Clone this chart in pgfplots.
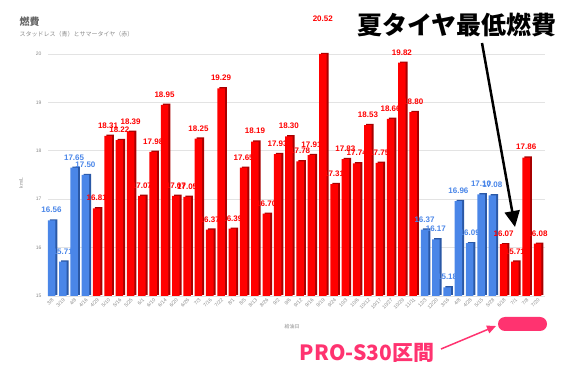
\documentclass[border=0pt]{standalone}
\usepackage{pgfplots}
\pgfplotsset{compat=1.18}
\usepackage{pgfplotstable}
\usepackage{fontspec}
\setmainfont{Liberation Sans}
\newfontfamily\jp{Noto Sans CJK JP}
\usetikzlibrary{arrows.meta}

\definecolor{myred}{HTML}{FF0000}
\definecolor{myredd}{HTML}{A80000}
\definecolor{myblue}{HTML}{4A86E8}
\definecolor{myblued}{HTML}{2A58A6}
\definecolor{pinkc}{HTML}{FF3370}
\definecolor{gridc}{HTML}{E3E3E3}
\definecolor{tickc}{HTML}{8A8A8A}
\definecolor{titlec}{HTML}{666666}

\pgfplotstableread{
x y
0 16.56
1 15.71
2 17.65
3 17.50
33 16.37
34 16.17
35 15.18
36 16.96
37 16.09
38 17.10
39 17.08
}\bluedata

\pgfplotstableread{
x y
4 16.81
5 18.31
6 18.22
7 18.39
8 17.07
9 17.98
10 18.95
11 17.07
12 17.05
13 18.25
14 16.37
15 19.29
16 16.39
17 17.65
18 18.19
19 16.70
20 17.93
21 18.30
22 17.78
23 17.91
24 20.52
25 17.31
26 17.83
27 17.74
28 18.53
29 17.75
30 18.66
31 19.82
32 18.80
40 16.07
41 15.71
42 17.86
43 16.08
}\reddata

\begin{document}
\begin{tikzpicture}
\path[use as bounding box] (0pt,0pt) rectangle (570pt,369pt);
\begin{axis}[
  at={(48pt,73pt)}, anchor=south west,
  scale only axis, width=497pt, height=242pt,
  xmin=-0.31, xmax=43.66, ymin=15, ymax=20,
  ytick={15,16,17,18,19,20},
  xtick={0,...,43},
  xticklabels={3/8,3/19,4/8,4/16,4/29,5/10,5/16,5/25,6/1,6/10,6/14,6/20,6/26,7/3,7/16,7/22,8/1,8/5,8/13,8/26,9/2,9/6,9/12,9/16,9/19,9/24,10/3,10/6,10/12,10/17,10/27,10/29,11/11,12/3,12/20,3/16,4/8,4/28,5/15,5/28,6/18,7/1,7/8,7/20},
  ymajorgrids, grid style={gridc, line width=0.7pt},
  axis line style={draw=none},
  major tick length=0pt,
  tick label style={font=\fontsize{5}{6}\selectfont, text=tickc},
  x tick label style={rotate=45, anchor=north east, inner sep=1pt},
  y tick label style={xshift=-3pt},
  /pgf/number format/assume math mode=true,
  ybar, bar width=7.5pt,
  clip=false,
]
\addplot[fill=myblued, draw=none, bar shift=2pt, restrict y to domain*=15:20, transform canvas={yshift=1.2pt}] table {\bluedata};
\addplot[fill=myredd, draw=none, bar shift=2pt, restrict y to domain*=15:20, transform canvas={yshift=1.2pt}] table {\reddata};
\addplot[fill=myblue, draw=none, bar shift=0pt, restrict y to domain*=15:20] table {\bluedata};
\addplot[fill=myred, draw=none, bar shift=0pt, restrict y to domain*=15:20] table {\reddata};
% value labels
\addplot[draw=none, fill=none, bar shift=0pt,
  nodes near coords={\pgfmathprintnumber[fixed,fixed zerofill,precision=2]{\pgfplotspointmeta}},
  nodes near coords style={font=\bfseries\fontsize{8}{9}\selectfont, text=myblue, yshift=4pt}] table {\bluedata};
\addplot[draw=none, fill=none, bar shift=0pt,
  nodes near coords={\pgfmathprintnumber[fixed,fixed zerofill,precision=2]{\pgfplotspointmeta}},
  nodes near coords style={font=\bfseries\fontsize{8}{9}\selectfont, text=myred, yshift=4pt}] table {\reddata};
\end{axis}
% titles and axis labels
\node[anchor=west, font=\jp\bfseries\fontsize{10}{12}\selectfont, text=titlec] at (16pt,347pt) {燃費};
\node[anchor=west, font=\jp\fontsize{6}{7}\selectfont, text=tickc] at (16pt,335pt) {スタッドレス（青）とサマータイヤ（赤）};
\node[rotate=90, font=\fontsize{5}{6}\selectfont, text=tickc] at (21pt,186pt) {km/L};
\node[font=\jp\fontsize{5}{6}\selectfont, text=tickc] at (292pt,42pt) {給油日};
% annotation 1
\draw[line width=2.5pt, -{Triangle[width=15pt,length=16pt]}] (482pt,326pt) -- (515pt,142pt);
\node[font=\jp\bfseries\fontsize{25}{28}\selectfont, text=black] at (457pt,344pt) {夏タイヤ最低燃費};
% annotation 2
\fill[pinkc, rounded corners=7pt] (498pt,38pt) rectangle (547pt,52pt);
\draw[pinkc, line width=1.5pt, -{Triangle[width=8pt,length=9pt]}] (441pt,20pt) -- (496pt,43pt);
\node[font=\jp\bfseries\fontsize{21}{24}\selectfont, text=pinkc] at (367pt,16pt) {PRO-S30区間};
\end{tikzpicture}
\end{document}
